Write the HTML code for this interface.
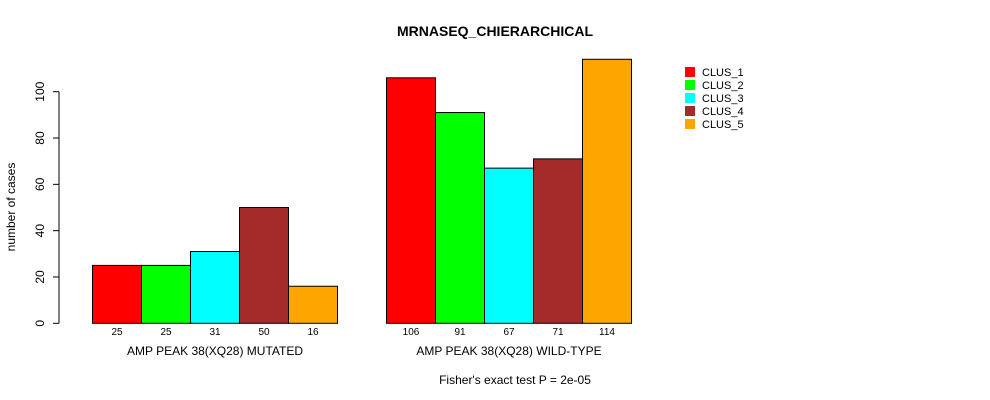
<!DOCTYPE html>
<html><head><meta charset="utf-8"><style>
body{margin:0;background:#fff;}
svg{display:block;font-family:"Liberation Sans",sans-serif;}
</style></head><body>
<svg id="chart" width="990" height="400">
<text x="495" y="36" text-anchor="middle" font-size="14" font-weight="bold">MRNASEQ_CHIERARCHICAL</text>
<text transform="translate(15,207) rotate(-90)" text-anchor="middle" font-size="12">number of cases</text>
<text x="515" y="384" text-anchor="middle" font-size="12">Fisher's exact test P = 2e-05</text>
<g id="axis"></g><g id="bars"></g><g id="legend"></g>
</svg>
<script>
const groups = ["AMP PEAK 38(XQ28) MUTATED", "AMP PEAK 38(XQ28) WILD-TYPE"];
const clusters = ["CLUS_1","CLUS_2","CLUS_3","CLUS_4","CLUS_5"];
const mutatedValues = [25,25,31,50,16];
const wildtypeValues = [106,91,67,71,114];
const yTicks = [0,20,40,60,80,100];
const colors = ["#ff0000","#00ff00","#00ffff","#a52a2a","#ffa500"];
const NS="http://www.w3.org/2000/svg";
function y(v){return 323.3 - v*(323.3-91.7)/100;}
function mk(tag,attrs,parent){const e=document.createElementNS(NS,tag);for(const k in attrs)e.setAttribute(k,attrs[k]);parent.appendChild(e);return e;}
const axis=document.getElementById('axis'),bars=document.getElementById('bars'),legend=document.getElementById('legend');
const ax=mk('line',{x1:59,x2:59,y1:y(0),y2:y(100),stroke:'#000'},axis);


yTicks.forEach(t=>{
  const l=mk('line',{x1:53,x2:59,y1:y(t),y2:y(t),stroke:'#000'},axis);
  
  
  const tx=mk('text',{transform:`translate(44,${y(t)}) rotate(-90)`,'text-anchor':'middle','font-size':12},axis);
  tx.textContent=t;
  
  
});
const barW=49, groupStarts=[92.5,386.5];
[mutatedValues,wildtypeValues].forEach((vals,g)=>{
  vals.forEach((v,i)=>{
    const x=groupStarts[g]+i*barW;
    const r=mk('rect',{x:x,y:y(v),width:barW,height:y(0)-y(v),fill:colors[i],stroke:'#000','stroke-width':1},bars);
    
    
    const t=mk('text',{x:x+barW/2,y:335,'text-anchor':'middle','font-size':10},bars);
    t.textContent=v;
    
    
  });
  const gl=mk('text',{x:groupStarts[g]+barW*2.5,y:355,'text-anchor':'middle','font-size':12},bars);
  gl.textContent=groups[g];
  
  
});
clusters.forEach((c,i)=>{
  const r=mk('rect',{x:685,y:67+i*13,width:10,height:10,fill:colors[i]},legend);
  
  
  const t=mk('text',{x:702,y:76+i*13,'font-size':11},legend);
  t.textContent=c;
  
  
});
</script>
</body></html>
